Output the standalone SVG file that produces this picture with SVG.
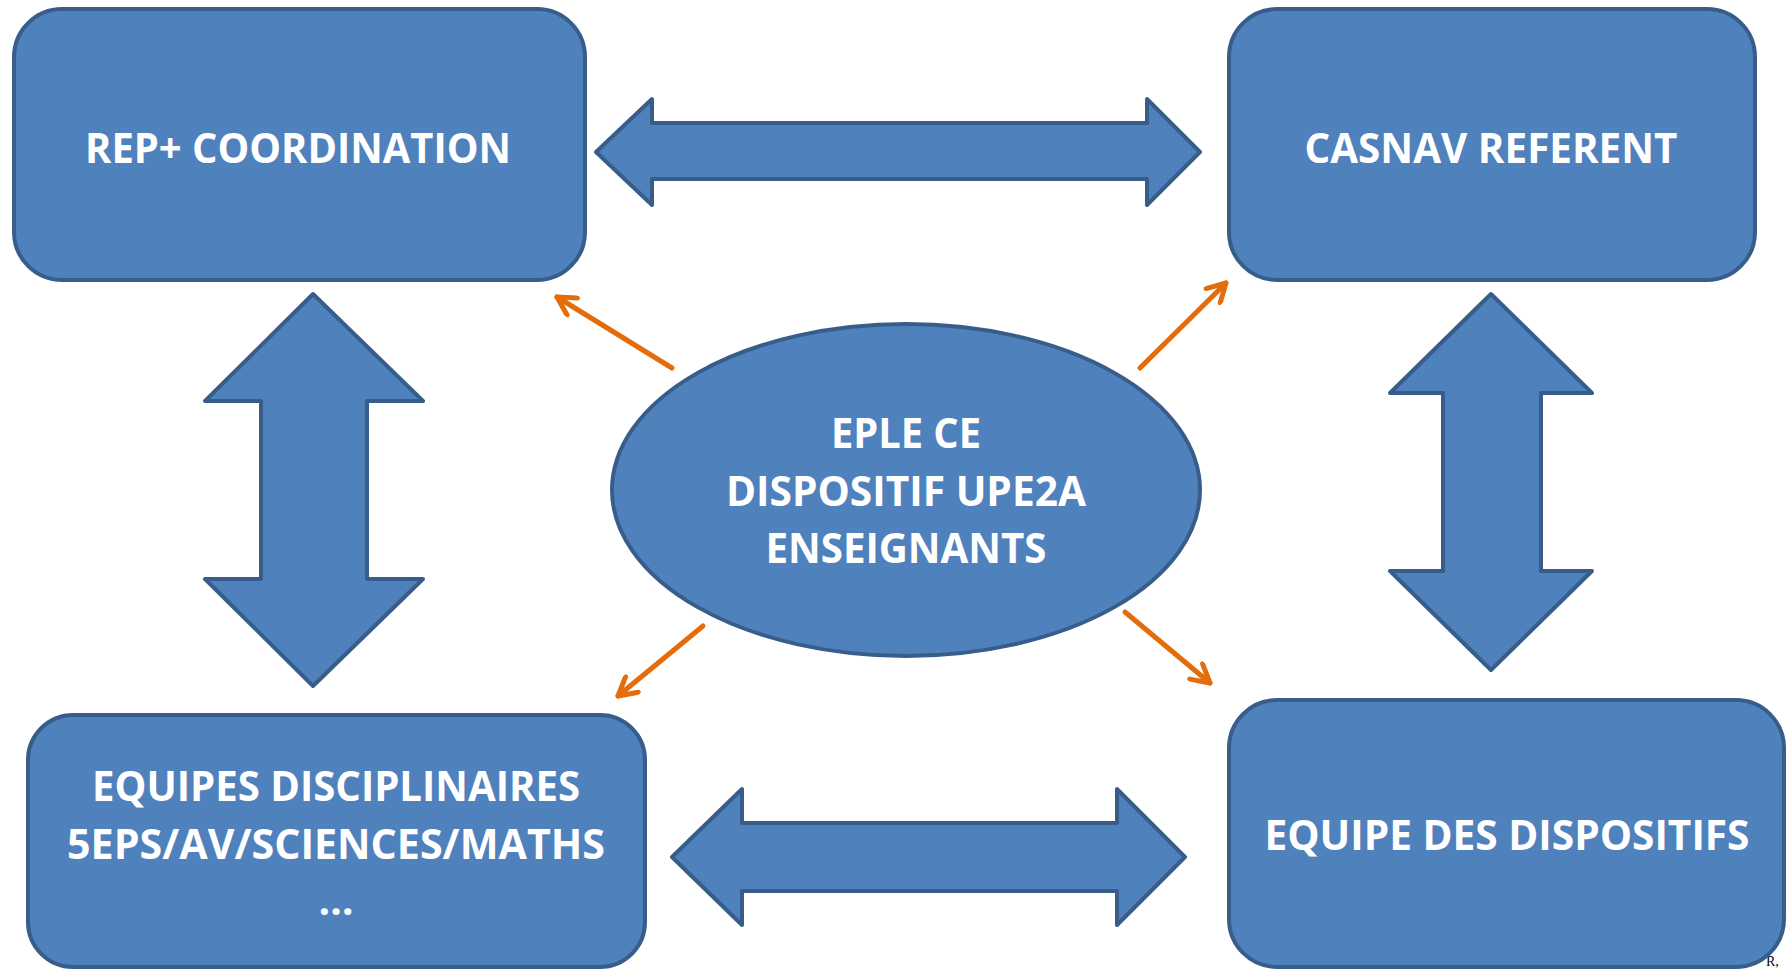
<svg xmlns="http://www.w3.org/2000/svg" width="1787" height="971" viewBox="0 0 1787 971">
<style>
.shape{fill:#4F81BD;stroke:#385D8A;stroke-width:4;stroke-linejoin:round}
.lbl{font-family:"Open Sans","Liberation Sans",sans-serif;font-weight:700;font-size:41px;fill:#FFFFFF;text-anchor:middle}
.link{stroke:#E46C0A;stroke-width:5;stroke-linecap:round;fill:none}
</style>
<defs>
<marker id="oh" viewBox="0 0 24 24" refX="21" refY="12" markerWidth="24" markerHeight="24" markerUnits="userSpaceOnUse" orient="auto">
<path d="M3,2 L21,12 L3,22" fill="none" stroke="#E46C0A" stroke-width="5" stroke-linecap="round" stroke-linejoin="round"/>
</marker>
</defs>
<rect width="1787" height="971" fill="#FFFFFF"/>
<text x="1766" y="966" font-family="Liberation Serif,serif" font-size="14" fill="#000">R,</text>

<g id="rep-coordination">
<rect class="shape" x="14" y="9" width="571" height="271" rx="48" ry="48"/>
<text class="lbl" x="298" y="163" textLength="426" lengthAdjust="spacingAndGlyphs">REP+ COORDINATION</text>
</g>
<g id="casnav-referent">
<rect class="shape" x="1229" y="9" width="526" height="271" rx="48" ry="48"/>
<text class="lbl" x="1491" y="163" textLength="373" lengthAdjust="spacingAndGlyphs">CASNAV REFERENT</text>
</g>
<g id="eple">
<ellipse class="shape" cx="906" cy="490" rx="294" ry="166"/>
<text class="lbl" x="906" y="448" textLength="150" lengthAdjust="spacingAndGlyphs">EPLE CE</text>
<text class="lbl" x="906" y="506" textLength="360" lengthAdjust="spacingAndGlyphs">DISPOSITIF UPE2A</text>
<text class="lbl" x="906" y="563" textLength="281" lengthAdjust="spacingAndGlyphs">ENSEIGNANTS</text>
</g>
<g id="equipes-disciplinaires">
<rect class="shape" x="28" y="715" width="617" height="252" rx="45" ry="45"/>
<text class="lbl" x="336" y="801" textLength="488" lengthAdjust="spacingAndGlyphs">EQUIPES DISCIPLINAIRES</text>
<text class="lbl" x="336" y="859" textLength="538" lengthAdjust="spacingAndGlyphs">5EPS/AV/SCIENCES/MATHS</text>
<text class="lbl" x="336" y="915">…</text>
</g>
<g id="equipe-dispositifs">
<rect class="shape" x="1229" y="700" width="555" height="267" rx="48" ry="48"/>
<text class="lbl" x="1507" y="850" textLength="485" lengthAdjust="spacingAndGlyphs">EQUIPE DES DISPOSITIFS</text>
</g>

<g id="connectors">
<polygon class="shape" points="596,152 652,99 652,123 1147,123 1147,99 1200,152 1147,205 1147,179 652,179 652,205"/>
<polygon class="shape" points="672,857 742,789 742,823 1117,823 1117,789 1185,857 1117,925 1117,891 742,891 742,925"/>
<polygon class="shape" points="313,294 423,401 367,401 367,579 423,579 313,686 205,579 261,579 261,401 205,401"/>
<polygon class="shape" points="1491,294 1592,393 1541,393 1541,571 1592,571 1491,670 1390,571 1443,571 1443,393 1390,393"/>
<line class="link" x1="672" y1="368" x2="557" y2="297" marker-end="url(#oh)"/>
<line class="link" x1="1140" y1="368" x2="1226" y2="283" marker-end="url(#oh)"/>
<line class="link" x1="703" y1="626" x2="618" y2="696" marker-end="url(#oh)"/>
<line class="link" x1="1125" y1="612" x2="1210" y2="683" marker-end="url(#oh)"/>
</g>
</svg>
